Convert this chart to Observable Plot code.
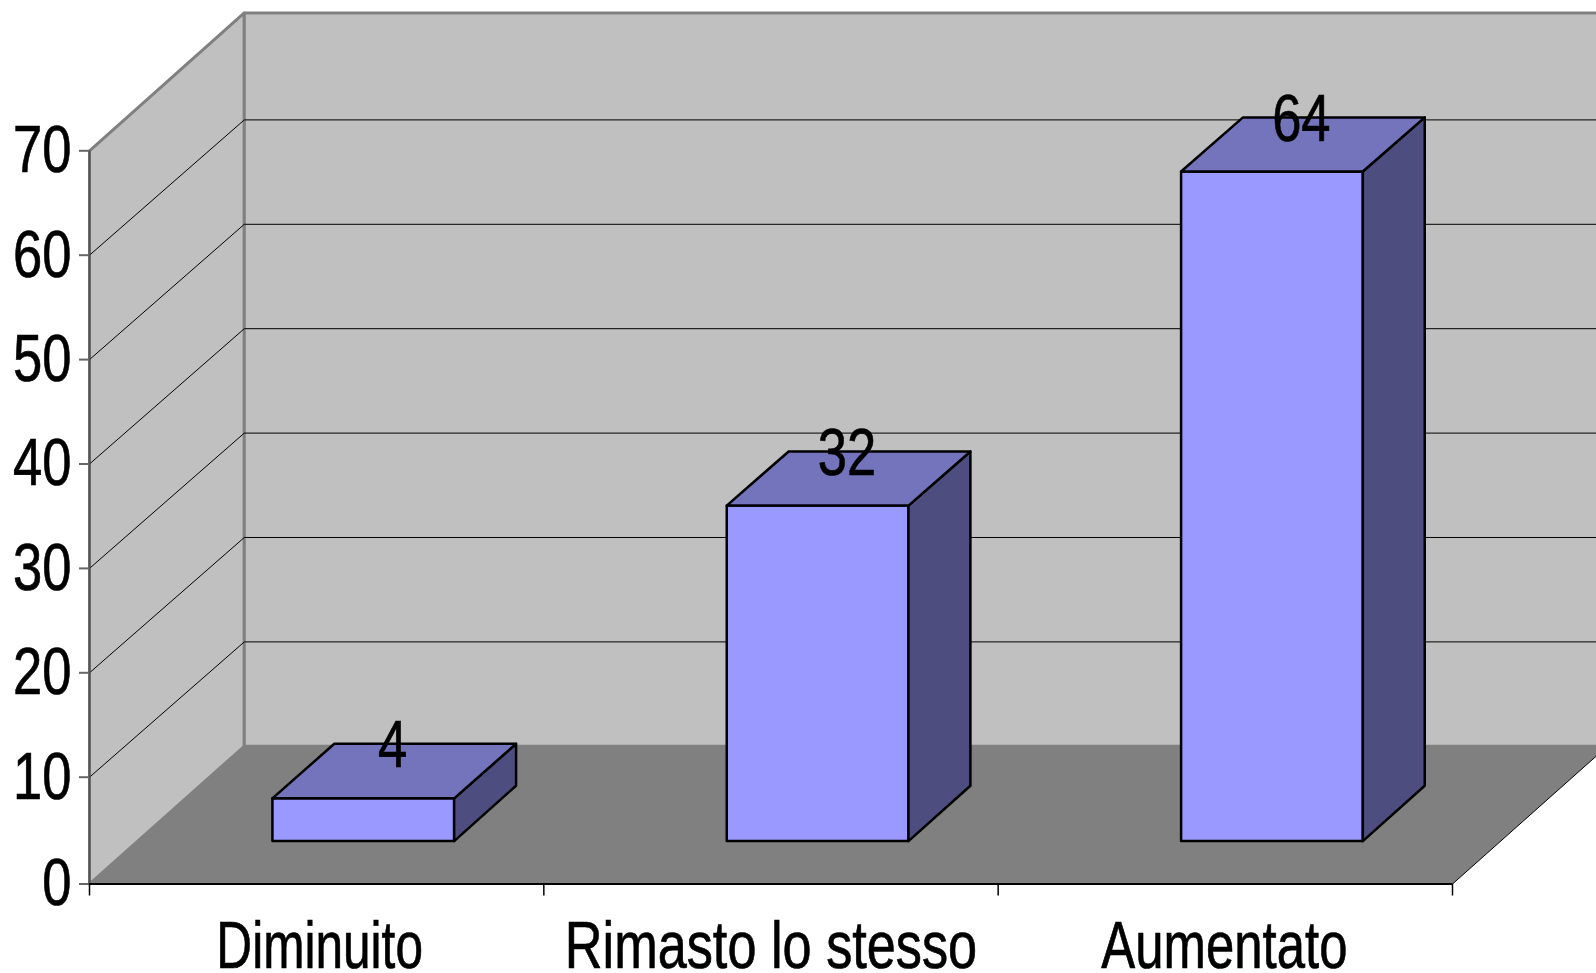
<!DOCTYPE html>
<html>
<head>
<meta charset="utf-8">
<script src="https://cdn.jsdelivr.net/npm/d3@7"></script>
<script src="https://cdn.jsdelivr.net/npm/@observablehq/plot@0.6"></script>
<style>
  html, body { margin: 0; padding: 0; background: #fff; }
  svg { display: block; }
</style>
</head>
<body>
<div id="chart"></div>
<script>
// Survey answers and their counts
const categories = ["Diminuito", "Rimasto lo stesso", "Aumentato"];
const counts = [4, 32, 64];
const yTicks = [0, 10, 20, 30, 40, 50, 60, 70];
const gridValues = [10, 20, 30, 40, 50, 60];

// Oblique projection: depth d runs from 0 (front of the floor) to 1 (back wall)
const depthX = 0.3407;
const depthY = 12.96;
const wallTop = 70.24;
const barFront = 0.31, barBack = 0.71, barInset = 0.297, barOutset = 0.697;

const project = (x, v, d, id) => ({ x: x + d * depthX, y: v + d * depthY, id });
const poly = (id, pts) => pts.map(([x, v, d]) => project(x, v, d, id));

const n = categories.length;

const sideWall = poly("side", [[0, 0, 0], [0, yTicks[yTicks.length - 1], 0], [0, wallTop, 1], [0, 0, 1]]);
const backWall = poly("back", [[0, 0, 1], [0, wallTop, 1], [n, wallTop, 1], [n, 0, 1]]);
const floor = poly("floor", [[0, 0, 0], [0, 0, 1], [n, 0, 1], [n, 0, 0]]);

const grid = gridValues.flatMap((v) =>
  poly(v, [[0, v, 0], [0, v, 1], [n, v, 1]])
);

const fronts = counts.flatMap((v, i) => poly(i, [
  [i + barInset, 0, barFront], [i + barInset, v, barFront],
  [i + barOutset, v, barFront], [i + barOutset, 0, barFront]
]));
const sides = counts.flatMap((v, i) => poly(i, [
  [i + barOutset, 0, barFront], [i + barOutset, v, barFront],
  [i + barOutset, v, barBack], [i + barOutset, 0, barBack]
]));
const tops = counts.flatMap((v, i) => poly(i, [
  [i + barInset, v, barFront], [i + barInset, v, barBack],
  [i + barOutset, v, barBack], [i + barOutset, v, barFront]
]));

const valueLabels = counts.map((v, i) => ({
  ...project(i + barInset + 0.2, v, 0.5),
  text: String(v)
}));

const face = (data, fill, stroke, strokeWidth) =>
  Plot.line(data, { x: "x", y: "y", z: "id", fill, stroke, strokeWidth, curve: "linear-closed" });

const font = "'Liberation Sans', Arial, sans-serif";
const fontSize = 67;
const condense = 0.785;
const categoryCondense = [0.74, 0.78, 0.76];
const categoryNudge = [3, 0, -1];

const chart = Plot.plot({
  width: 1596,
  height: 973,
  marginLeft: 89,
  marginRight: 144,
  marginTop: 150.3,
  marginBottom: 89.5,
  style: { background: "#fff", fontFamily: font },
  x: { domain: [0, n] },
  // the first interval of the value axis is drawn slightly taller than the rest
  y: { type: "linear", domain: [0, 10, 70], range: [883.5, 776.7, 150.3] },
  marks: [
    face(sideWall, "#c0c0c0", "#808080", 3),
    face(backWall, "#c0c0c0", "#808080", 3),
    Plot.line(grid, { x: "x", y: "y", z: "id", stroke: "#000", strokeWidth: 1 }),
    face(floor, "#808080", "none", 0),
    // thin front-to-back edge along the right of the floor
    Plot.line(poly("edge", [[n, 0, 0], [n, 0, 1]]), { x: "x", y: "y", stroke: "#000", strokeWidth: 1 }),
    // the y axis sits on the front edge of the side wall
    Plot.ruleX([0], { y1: 0, y2: 70, stroke: "#555", strokeWidth: 2 }),
    face(fronts, "#9999ff", "#000", 2.5),
    face(sides, "#4d4d7f", "#000", 2.5),
    face(tops, "#7474bc", "#000", 2.5),
    Plot.axisY({
      ticks: yTicks, anchor: "left", label: null, tickSize: 10, tickPadding: 8,
      fontSize, stroke: "#666", strokeWidth: 2, fill: "#000"
    }),
    Plot.ruleY([0], { x1: 0, x2: n, stroke: "#000", strokeWidth: 2 }),
    Plot.axisX({
      ticks: d3.range(n + 1), anchor: "bottom", label: null, tickSize: 12,
      tickFormat: () => "", stroke: "#000", strokeWidth: 1.5
    }),
    Plot.axisX({
      ticks: categories.map((_, i) => i + 0.5), anchor: "bottom", label: null, tickSize: 0,
      tickPadding: 36, fontSize, fill: "#000",
      tickFormat: (t) => categories[Math.floor(t)]
    }),
    Plot.text(valueLabels, {
      x: "x", y: "y", text: "text", fontSize, fill: "#000", lineAnchor: "bottom", textAnchor: "middle", dy: -5
    })
  ]
});

// Labels use a condensed setting of the sans-serif face, thickened a little to keep their weight
chart.querySelectorAll("text").forEach((t) => {
  const base = t.getAttribute("transform") || "";
  const i = categories.indexOf(t.textContent);
  const shift = i < 0 ? 0 : categoryNudge[i];
  const sx = i < 0 ? condense : categoryCondense[i];
  t.setAttribute("transform", `${base} translate(${shift},0) scale(${sx},1)`);
  t.setAttribute("stroke", "#000");
  t.setAttribute("stroke-width", "0.7");
});

document.getElementById("chart").append(chart);
</script>
</body>
</html>
